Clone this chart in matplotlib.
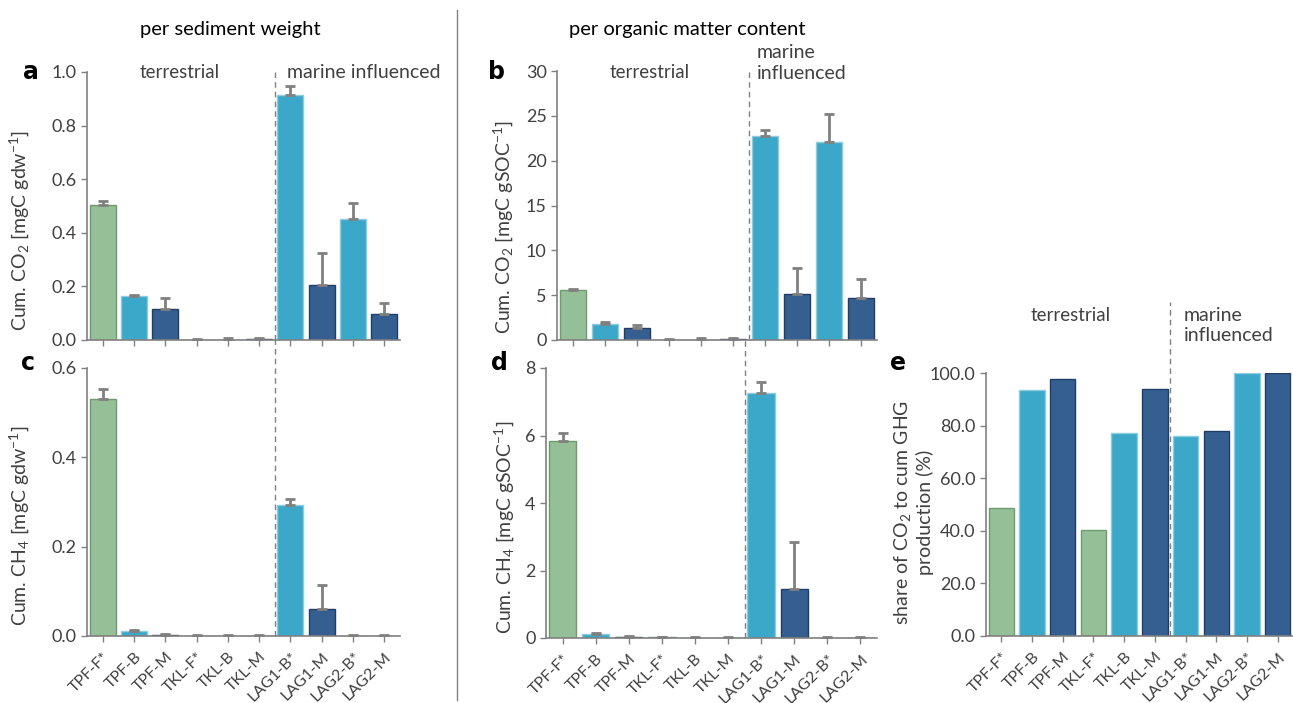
import matplotlib
matplotlib.use('Agg')
import matplotlib.pyplot as plt
from matplotlib.lines import Line2D
import numpy as np

plt.rcParams['font.family'] = ['Lato', 'DejaVu Sans']
plt.rcParams['mathtext.fontset'] = 'custom'
plt.rcParams['mathtext.rm'] = 'Lato'
plt.rcParams['mathtext.it'] = 'Lato:italic'

# sample labels and bar groups
samples = ['TPF-F*', 'TPF-B', 'TPF-M', 'TKL-F*', 'TKL-B', 'TKL-M',
           'LAG1-B*', 'LAG1-M', 'LAG2-B*', 'LAG2-M']
kinds = ['F', 'B', 'M', 'F', 'B', 'M', 'B', 'M', 'B', 'M']

# a: cumulative CO2 per sediment weight
co2_gdw = [0.502, 0.165, 0.115, 0.001, 0.0005, 0.004, 0.915, 0.207, 0.450, 0.096]
co2_gdw_err = [0.016, 0.003, 0.043, 0.001, 0.006, 0.002, 0.031, 0.117, 0.062, 0.042]
# b: cumulative CO2 per organic matter
co2_soc = [5.57, 1.82, 1.30, 0.03, 0.02, 0.15, 22.7, 5.16, 22.13, 4.68]
co2_soc_err = [0.15, 0.15, 0.37, 0.04, 0.23, 0.03, 0.74, 2.9, 3.12, 2.15]
# c: cumulative CH4 per sediment weight
ch4_gdw = [0.530, 0.012, 0.003, 0.0005, 0.0002, 0.001, 0.2925, 0.060, 0.001, 0.0008]
ch4_gdw_err = [0.024, 0.002, 0.0015, 0.001, 0.001, 0.0005, 0.0145, 0.055, 0.001, 0.0005]
# d: cumulative CH4 per organic matter
ch4_soc = [5.85, 0.12, 0.04, 0.02, 0.005, 0.01, 7.26, 1.455, 0.01, 0.01]
ch4_soc_err = [0.22, 0.03, 0.03, 0.02, 0.015, 0.005, 0.33, 1.395, 0.005, 0.005]
# e: share of CO2 in cumulative GHG production
co2_share = [48.5, 93.5, 97.7, 40.3, 77.3, 94.0, 76.1, 77.9, 100.0, 100.0]

face = {'F': '#95bf96', 'B': '#3ba8c9', 'M': '#355f91'}
edge = {'F': '#6f9b70', 'B': '#8ccbe0', 'M': '#1f3d66'}
txt = '#404040'
grey = '#808080'

fig = plt.figure(figsize=(12.93, 7.03), dpi=100)

def px(l, r, b, t):
  return [l / 1293, 1 - b / 703, (r - l) / 1293, (b - t) / 703]

def panel(rect, values, errs, ylim, yticks, fmt, ylabel, letter, letter_xy, divider_top, show_x):
  ax = fig.add_axes(rect)
  x = np.arange(len(values))
  ax.bar(x, values, width=0.83, color=[face[k] for k in kinds],
         edgecolor=[edge[k] for k in kinds], linewidth=1.0, zorder=2)
  if errs is not None:
    ax.errorbar(x, values, yerr=[np.zeros(len(errs)), errs], fmt='none',
                ecolor=grey, elinewidth=2, capsize=3.5, capthick=2, zorder=3)
  ax.set_xlim(-0.5, 9.5)
  ax.set_ylim(*ylim)
  ax.set_yticks(yticks)
  ax.set_yticklabels([fmt.format(v) for v in yticks])
  ax.set_xticks(x)
  if show_x:
    ax.set_xticklabels(samples, rotation=45, ha='right', rotation_mode='anchor', color=txt)
  else:
    ax.set_xticklabels([])
  for s in ['top', 'right']:
    ax.spines[s].set_visible(False)
  for s in ['left', 'bottom']:
    ax.spines[s].set_color(grey)
    ax.spines[s].set_linewidth(1.2)
  ax.tick_params(axis='both', colors=grey, length=4, width=1, labelcolor=txt, labelsize=13)
  ax.tick_params(axis='x', labelsize=11.5, pad=6)
  ax.set_ylabel(ylabel, fontsize=14, color=txt)
  ax.axvline(5.5, ymin=0, ymax=divider_top, color=grey, linestyle=(0, (4, 3)), linewidth=1, clip_on=False, zorder=4)
  fig.text(letter_xy[0] / 1293, 1 - letter_xy[1] / 703, letter, fontsize=17, fontweight='bold',
           family='DejaVu Sans', ha='center', va='center', color='black')
  return ax

ax_a = panel(px(87, 400, 340, 72), co2_gdw, co2_gdw_err, (0, 1.0), [0, 0.2, 0.4, 0.6, 0.8, 1.0], '{:.1f}',
             'Cum. CO$_2$ [mgC gdw$^{-1}$]', 'a', (31, 72), 1.0, False)
ax_b = panel(px(557, 877, 340, 71), co2_soc, co2_soc_err, (0, 30), [0, 5, 10, 15, 20, 25, 30], '{:.0f}',
             'Cum. CO$_2$ [mgC gSOC$^{-1}$]', 'b', (497, 72), 1.01, False)
ax_c = panel(px(87, 400, 636, 368), ch4_gdw, ch4_gdw_err, (0, 0.6), [0, 0.2, 0.4, 0.6], '{:.1f}',
             'Cum. CH$_4$ [mgC gdw$^{-1}$]', 'c', (28, 363), 1.105, True)
ax_d = panel(px(546, 877, 638, 368), ch4_soc, ch4_soc_err, (0, 8), [0, 2, 4, 6, 8], '{:.0f}',
             'Cum. CH$_4$ [mgC gSOC$^{-1}$]', 'd', (499, 363), 1.105, True)
ax_e = panel(px(986, 1293, 636, 373), co2_share, None, (0, 100), [0, 20, 40, 60, 80, 100], '{:.1f}',
             'share of CO$_2$ to cum GHG\nproduction (%)', 'e', (898, 363), 1.27, True)

ax_a.yaxis.set_label_coords(-0.178, 0.41)
ax_c.yaxis.set_label_coords(-0.178, 0.41)
ax_b.yaxis.set_label_coords(-0.132, 0.42)
ax_d.yaxis.set_label_coords(-0.09, 0.41)
ax_e.yaxis.set_label_coords(-0.17, 0.47)

# group labels
ax_a.text(2.45, 1.0, 'terrestrial', ha='center', va='center', fontsize=13.5, color=txt, clip_on=False)
ax_a.text(8.35, 1.0, 'marine influenced', ha='center', va='center', fontsize=14, color=txt, clip_on=False)
ax_b.text(2.4, 29.8, 'terrestrial', ha='center', va='center', fontsize=13.5, color=txt, clip_on=False)
ax_b.text(5.75, 30.9, 'marine\ninfluenced', ha='left', va='center', fontsize=14, color=txt,
          linespacing=1.25, clip_on=False)
ax_e.text(2.25, 122, 'terrestrial', ha='center', va='center', fontsize=13.5, color=txt, clip_on=False)
ax_e.text(5.95, 118, 'marine\ninfluenced', ha='left', va='center', fontsize=14, color=txt,
          linespacing=1.25, clip_on=False)

# column headings and separator
fig.text(230 / 1293, 1 - 30 / 703, 'per sediment weight', ha='center', va='center', fontsize=14.5, color='black')
fig.text(687 / 1293, 1 - 30 / 703, 'per organic matter content', ha='center', va='center', fontsize=14.5, color='black')
fig.add_artist(Line2D([457 / 1293, 457 / 1293], [1 - 10 / 703, 1 - 700 / 703], color=grey, linewidth=1))

fig.savefig('out.png', dpi=100)
